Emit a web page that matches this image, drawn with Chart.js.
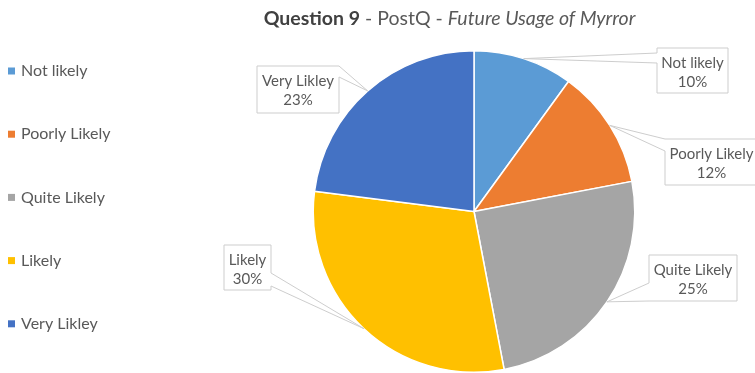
<!DOCTYPE html>
<html>
<head>
<meta charset="utf-8">
<script src="https://cdn.jsdelivr.net/npm/chart.js@4.4.1/dist/chart.umd.min.js"></script>
<style>
  html, body { margin: 0; padding: 0; background: #ffffff; }
  #wrap { width: 755px; height: 373px; position: relative; }
</style>
</head>
<body>
<div id="wrap"><canvas id="chart" width="755" height="373"></canvas></div>
<script>
// Survey answers: "Question 9 - PostQ - Future Usage of Myrror"
const categories = ['Not likely', 'Poorly Likely', 'Quite Likely', 'Likely', 'Very Likley'];
const shares = [10, 12, 25, 30, 23];
const sliceColors = ['#5B9BD5', '#ED7D31', '#A5A5A5', '#FFC000', '#4472C4'];

const FONT = 'Lato, "Open Sans", sans-serif';
const TEXT = '#595959';

// Title with mixed bold / regular / italic runs, centred above the pie
const titlePlugin = {
  id: 'mixedTitle',
  afterDraw(chart) {
    const ctx = chart.ctx;
    const runs = [
      { t: 'Question 9', f: 'bold 19.5px ' + FONT, c: '#404040' },
      { t: ' - PostQ - ', f: '19.5px ' + FONT, c: TEXT },
      { t: 'Future Usage of Myrror', f: 'italic 19.5px ' + FONT, c: TEXT }
    ];
    ctx.save();
    let total = 0;
    runs.forEach(r => { ctx.font = r.f; r.w = ctx.measureText(r.t).width; total += r.w; });
    let x = 449.5 - total / 2;
    ctx.textBaseline = 'middle';
    runs.forEach(r => {
      ctx.font = r.f; ctx.fillStyle = r.c;
      ctx.fillText(r.t, x, 19);
      x += r.w;
    });
    ctx.restore();
  }
};

// Legend column on the left with widely spaced entries
const sideLegend = {
  id: 'sideLegend',
  afterDraw(chart) {
    const ctx = chart.ctx;
    const ds = chart.data.datasets[0];
    ctx.save();
    ctx.font = '16px ' + FONT;
    ctx.textBaseline = 'middle';
    chart.data.labels.forEach((lab, i) => {
      const y = 71 + i * 63.2;
      ctx.fillStyle = ds.backgroundColor[i];
      ctx.fillRect(8, y - 3.5, 7, 7);
      ctx.fillStyle = TEXT;
      ctx.fillText(lab, 21, y);
    });
    ctx.restore();
  }
};

// Callout boxes: [x, y, w, h], the side the pointer leaves from and its span on that side
const calloutLayout = [
  { box: [657, 48, 71, 45], side: 'left', span: [53, 63] },
  { box: [665, 139, 93, 46], side: 'left', span: [139, 151] },
  { box: [649, 255, 88, 46], side: 'left', span: [283, 301] },
  { box: [224, 245, 47, 45], side: 'right', span: [273, 286] },
  { box: [257, 66, 82, 47], side: 'right', span: [66, 77] }
];

const calloutPlugin = {
  id: 'callouts',
  afterDatasetsDraw(chart) {
    const ctx = chart.ctx;
    const meta = chart.getDatasetMeta(0);
    const data = chart.data.datasets[0].data;
    const sum = data.reduce((a, b) => a + b, 0);
    ctx.save();
    meta.data.forEach((arc, i) => {
      const L = calloutLayout[i];
      const p = arc.getProps(['x', 'y', 'startAngle', 'endAngle', 'outerRadius'], true);
      const mid = (p.startAngle + p.endAngle) / 2;
      const tip = [p.x + Math.cos(mid) * p.outerRadius, p.y + Math.sin(mid) * p.outerRadius];
      const [bx, by, bw, bh] = L.box;
      const TL = [bx, by], TR = [bx + bw, by], BR = [bx + bw, by + bh], BL = [bx, by + bh];
      // clockwise outline, pointer inserted on its side
      let pts;
      const s = L.span;
      if (L.side === 'left') {
        const lo = Math.max(s[0], s[1]), hi = Math.min(s[0], s[1]);
        pts = [TL, TR, BR, BL, [bx, lo], tip, [bx, hi]];
      } else {
        const a = Math.min(s[0], s[1]), b = Math.max(s[0], s[1]);
        pts = [TL, TR, [bx + bw, a], tip, [bx + bw, b], BR, BL];
      }
      ctx.beginPath();
      pts.forEach((pt, k) => k ? ctx.lineTo(pt[0], pt[1]) : ctx.moveTo(pt[0], pt[1]));
      ctx.closePath();
      ctx.fillStyle = '#ffffff';
      ctx.fill();
      ctx.strokeStyle = '#CDCDCD';
      ctx.lineWidth = 1;
      ctx.stroke();

      ctx.fillStyle = TEXT;
      ctx.font = '15px ' + FONT;
      ctx.textAlign = 'center';
      ctx.textBaseline = 'middle';
      const cx = bx + bw / 2;
      ctx.fillText(chart.data.labels[i], cx, by + 15);
      ctx.fillText(Math.round(data[i] / sum * 100) + '%', cx, by + 34);
    });
    ctx.restore();
  }
};

new Chart(document.getElementById('chart'), {
  type: 'pie',
  data: {
    labels: categories,
    datasets: [{
      data: shares,
      backgroundColor: sliceColors,
      borderColor: '#ffffff',
      borderWidth: 1.5
    }]
  },
  options: {
    responsive: false,
    animation: false,
    layout: { padding: { top: 50, left: 193, right: 0, bottom: 0 } },
    plugins: {
      legend: { display: false },
      title: { display: false },
      tooltip: { enabled: false }
    }
  },
  plugins: [titlePlugin, sideLegend, calloutPlugin]
});
</script>
</body>
</html>
